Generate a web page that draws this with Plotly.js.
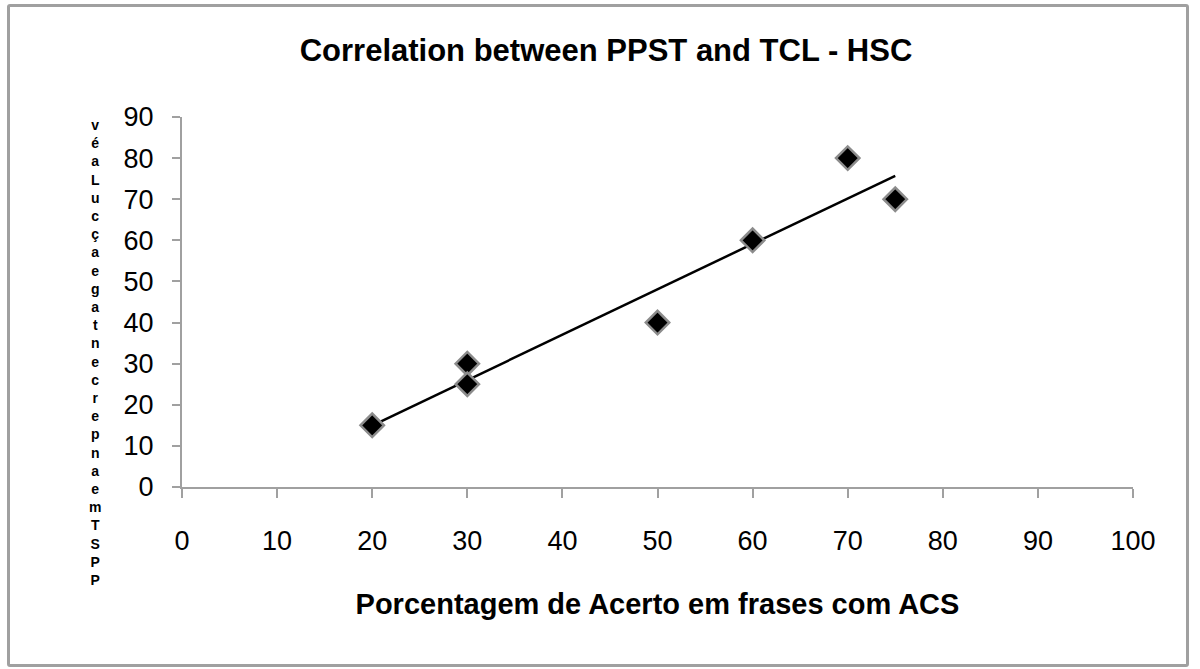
<!DOCTYPE html>
<html>
<head>
<meta charset="utf-8">
<script src="https://cdn.plot.ly/plotly-3.0.1.min.js"></script>
<style>
  html, body { margin: 0; padding: 0; background: #fff; }
  #chart { width: 1200px; height: 669px; }
  #frame { position: absolute; left: 7px; top: 4px; width: 1176px; height: 657px;
           border: 3px solid #a0a0a0; border-radius: 3px; pointer-events: none; }
</style>
</head>
<body>
<div id="chart"></div>
<div id="frame"></div>
<script>
// scatter data
var acsPct = [20, 30, 30, 50, 60, 70, 75];
var ppstPct = [15, 30, 25, 40, 60, 80, 70];

// y title is drawn as a column of stacked letters, top to bottom
var yTitleLetters = ["v","é","a","L","u","c","ç","a","e","g","a","t","n","e","c","r","e","p","n","a","e","m","T","S","P","P"];

// linear trendline from the points
var n = acsPct.length, mx = 0, my = 0;
for (var i = 0; i < n; i++) { mx += acsPct[i]; my += ppstPct[i]; }
mx /= n; my /= n;
var sxy = 0, sxx = 0;
for (var i = 0; i < n; i++) {
    sxy += (acsPct[i] - mx) * (ppstPct[i] - my);
    sxx += (acsPct[i] - mx) * (acsPct[i] - mx);
}
var slope = sxy / sxx, icept = my - slope * mx;
var xmin = Math.min.apply(null, acsPct), xmax = Math.max.apply(null, acsPct);

var fontFam = '"Liberation Sans", Arial, sans-serif';

var layout = {
    width: 1200, height: 669,
    margin: { l: 182, r: 67, t: 117, b: 182 },
    paper_bgcolor: '#fff', plot_bgcolor: '#fff',
    showlegend: false,
    title: {
        text: '<b>Correlation between PPST and TCL - HSC</b>',
        x: 0.505, xanchor: 'center', y: 0.925, yanchor: 'middle',
        font: { family: fontFam, size: 31, color: '#000' }
    },
    xaxis: {
        range: [0, 100], dtick: 10, tick0: 0,
        showgrid: false, zeroline: false,
        showline: true, linecolor: '#a0a0a0', linewidth: 2,
        ticks: 'outside', ticklen: 9, tickwidth: 2, tickcolor: '#a0a0a0',
        tickfont: { family: fontFam, size: 27, color: '#000' },
        ticklabelstandoff: 20,
        title: {
            text: '<b>Porcentagem de Acerto em frases com ACS</b>',
            font: { family: fontFam, size: 29, color: '#000' },
            standoff: 38
        }
    },
    yaxis: {
        range: [0, 90], dtick: 10, tick0: 0,
        showgrid: false, zeroline: false,
        showline: true, linecolor: '#a0a0a0', linewidth: 2,
        ticks: 'outside', ticklen: 8, tickwidth: 2, tickcolor: '#a0a0a0',
        tickfont: { family: fontFam, size: 27, color: '#000' },
        ticklabelstandoff: 13
    },
    annotations: [{
        text: '<b>' + yTitleLetters.join('<br>') + '</b>',
        showarrow: false, align: 'center',
        xref: 'paper', yref: 'paper',
        x: (95 - 182) / 951, y: (487 - 352) / 370,
        xanchor: 'center', yanchor: 'middle',
        font: { family: fontFam, size: 14, color: '#000' }
    }]
};

var traces = [
    {
        x: [xmin, xmax], y: [icept + slope * xmin, icept + slope * xmax],
        mode: 'lines', type: 'scatter',
        line: { color: '#000', width: 2.5 }, hoverinfo: 'skip'
    },
    {
        x: acsPct, y: ppstPct,
        mode: 'markers', type: 'scatter',
        marker: { symbol: 'diamond', size: 18, color: '#000',
                  line: { color: '#8c8c8c', width: 2.5 } }
    }
];

Plotly.newPlot('chart', traces, layout, { displayModeBar: false, staticPlot: true });
</script>
</body>
</html>
